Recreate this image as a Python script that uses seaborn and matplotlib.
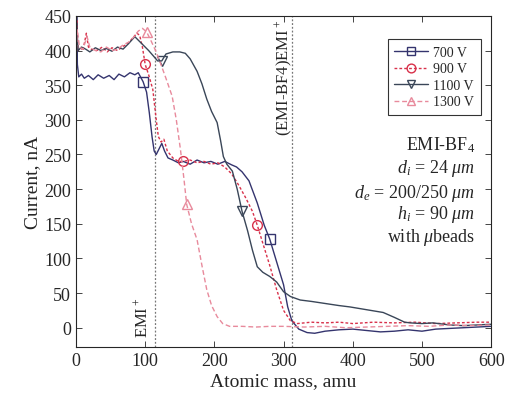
import numpy as np
import pandas as pd
import seaborn as sns
import matplotlib.pyplot as plt

# data (atomic mass in amu, current in nA)
x700 = [0, 1, 2, 4, 8, 12, 18, 25, 32, 40, 48, 55, 62, 70, 78, 85, 90, 97, 102, 106, 110, 113, 116, 120, 124,
        128, 133, 140, 148, 155, 165, 175, 185, 195, 205, 215, 225, 232, 240, 250, 262, 272, 280, 290, 300,
        306, 312, 322, 334, 345, 360, 380, 400, 420, 440, 460, 480, 500, 520, 540, 560, 580, 600]
y700 = [300, 450, 380, 362, 366, 360, 364, 358, 365, 360, 364, 358, 366, 362, 368, 365, 368, 355, 340, 310,
        275, 255, 250, 258, 266, 255, 245, 242, 238, 240, 236, 242, 238, 240, 236, 240, 235, 232, 225, 212,
        180, 148, 128, 95, 62, 30, 10, -2, -7, -8, -5, -3, -2, -4, -6, -5, -3, -5, -2, -1, 0, 1, 2]

x900 = [0, 1, 3, 6, 10, 15, 18, 22, 30, 38, 45, 52, 60, 68, 75, 82, 88, 92, 96, 100, 105, 111, 116, 119,
        123, 127, 132, 140, 148, 155, 165, 175, 185, 195, 205, 215, 225, 235, 245, 255, 262, 270, 280, 290,
        300, 310, 320, 340, 360, 380, 400, 430, 460, 490, 520, 550, 580, 600]
y900 = [370, 445, 400, 405, 400, 425, 405, 402, 400, 405, 398, 404, 400, 406, 410, 418, 425, 422, 405, 380,
        365, 344, 300, 276, 268, 272, 255, 245, 240, 240, 242, 238, 240, 236, 238, 232, 222, 206, 188, 168,
        148, 122, 90, 55, 25, 10, 6, 8, 7, 8, 6, 8, 7, 8, 6, 7, 8, 8]

x1100 = [0, 1, 3, 8, 14, 20, 28, 36, 44, 52, 60, 68, 76, 85, 95, 105, 112, 118, 124, 130, 140, 150, 158,
         165, 175, 182, 189, 196, 204, 209, 213, 218, 226, 233, 240, 248, 255, 262, 270, 280, 290, 300, 310,
         324, 340, 360, 380, 396, 420, 444, 460, 475, 483, 500, 516, 540, 560, 580, 600]
y1100 = [330, 440, 400, 405, 402, 398, 404, 400, 403, 399, 405, 402, 410, 420, 410, 400, 392, 385, 385, 395,
         398, 398, 396, 388, 370, 352, 330, 312, 296, 270, 247, 236, 226, 200, 168, 140, 112, 88, 80, 74, 66,
         52, 45, 40, 38, 35, 32, 30, 26, 22, 15, 8, 7, 6, 7, 4, 3, 4, 5]

x1300 = [0, 2, 5, 10, 16, 20, 28, 36, 44, 52, 60, 68, 76, 84, 90, 96, 102, 108, 115, 122, 130, 139, 145,
         151, 156, 160, 167, 175, 182, 189, 196, 204, 212, 222, 240, 260, 280, 300, 330, 360, 390, 420, 450,
         480, 510, 540, 570, 600]
y1300 = [390, 430, 405, 402, 420, 405, 400, 398, 405, 400, 402, 408, 412, 420, 428, 432, 427, 415, 400, 382,
         360, 334, 300, 257, 215, 178, 150, 127, 90, 55, 32, 16, 6, 2, 2, 1, 2, 2, 1, 2, 0, 1, 2, 3, 2, 4, 3, 4]

# where the hollow markers sit on each curve
mk700 = [97, 280]
mk900 = [100, 155, 262]
mk1100 = [124, 240]
mk1300 = [102, 160]

labels = ['700 V', '900 V', '1100 V', '1300 V']
emi_lines = [114, 312]

sns.set_theme(style="ticks")
plt.rcParams['font.family'] = ['Liberation Serif', 'DejaVu Serif']
plt.rcParams['mathtext.fontset'] = 'custom'
plt.rcParams['mathtext.rm'] = 'Liberation Serif'
plt.rcParams['mathtext.it'] = 'Liberation Serif:italic'
plt.rcParams['xtick.direction'] = 'in'
plt.rcParams['ytick.direction'] = 'in'

fig = plt.figure(figsize=(5.1, 4.02), dpi=100)
ax = fig.add_axes([0.149, 0.134, 0.814, 0.824])

series = [
    (x700, y700, mk700, '#34346e', '-', 's'),
    (x900, y900, mk900, '#d8304a', (0, (2, 1.5)), 'o'),
    (x1100, y1100, mk1100, '#3a4658', '-', 'v'),
    (x1300, y1300, mk1300, '#e88a9c', (0, (3.5, 2)), '^'),
]

for (xs, ys, mk, col, ls, m), lab in zip(series, labels):
    df = pd.DataFrame({'mass': xs, 'current': ys})
    idx = [xs.index(v) for v in mk]
    sns.lineplot(data=df, x='mass', y='current', ax=ax, sort=False, estimator=None,
                 color=col, linestyle=ls, linewidth=1.0, marker=m, markevery=idx,
                 markersize=7, markerfacecolor='none', markeredgecolor=col,
                 markeredgewidth=1.0, label=lab)

for v in emi_lines:
    ax.axvline(v, color='#777777', linestyle=(0, (1.5, 1.5)), linewidth=0.9, zorder=0)

ax.text(96, -14, 'EMI$^+$', rotation=90, ha='center', va='bottom', fontsize=12)
ax.text(301, 446, '(EMI-BF4)EMI$^+$', rotation=90, ha='center', va='top', fontsize=12)

ax.set_xlim(0, 600)
ax.set_ylim(-28, 450)
ax.set_xticks(np.arange(0, 601, 100))
ax.set_yticks(np.arange(0, 451, 50))
ax.tick_params(labelsize=13, top=True, right=True, length=4, width=0.6)
for s in ax.spines.values():
    s.set_linewidth(0.8)
ax.set_xlabel('Atomic mass, amu', fontsize=14, labelpad=2)
ax.set_ylabel('Current, nA', fontsize=14, labelpad=2)

leg = ax.legend(loc='upper right', bbox_to_anchor=(0.976, 0.93), fontsize=10, frameon=True,
                fancybox=False, edgecolor='black', handlelength=2.4, borderpad=0.5,
                labelspacing=0.25, handletextpad=0.4, markerscale=0.9, borderaxespad=0)
leg.get_frame().set_linewidth(0.8)

info = ['EMI-BF$_4$', '$d_i$ = 24 $\\mu m$', '$d_e$ = 200/250 $\\mu m$',
        '$h_i$ = 90 $\\mu m$', 'with $\\mu$beads']
for t, yy in zip(info, [0.613, 0.541, 0.468, 0.402, 0.335]):
    ax.text(0.961, yy, t, transform=ax.transAxes, ha='right', va='center', fontsize=13)

fig.savefig('out.png', dpi=100)
